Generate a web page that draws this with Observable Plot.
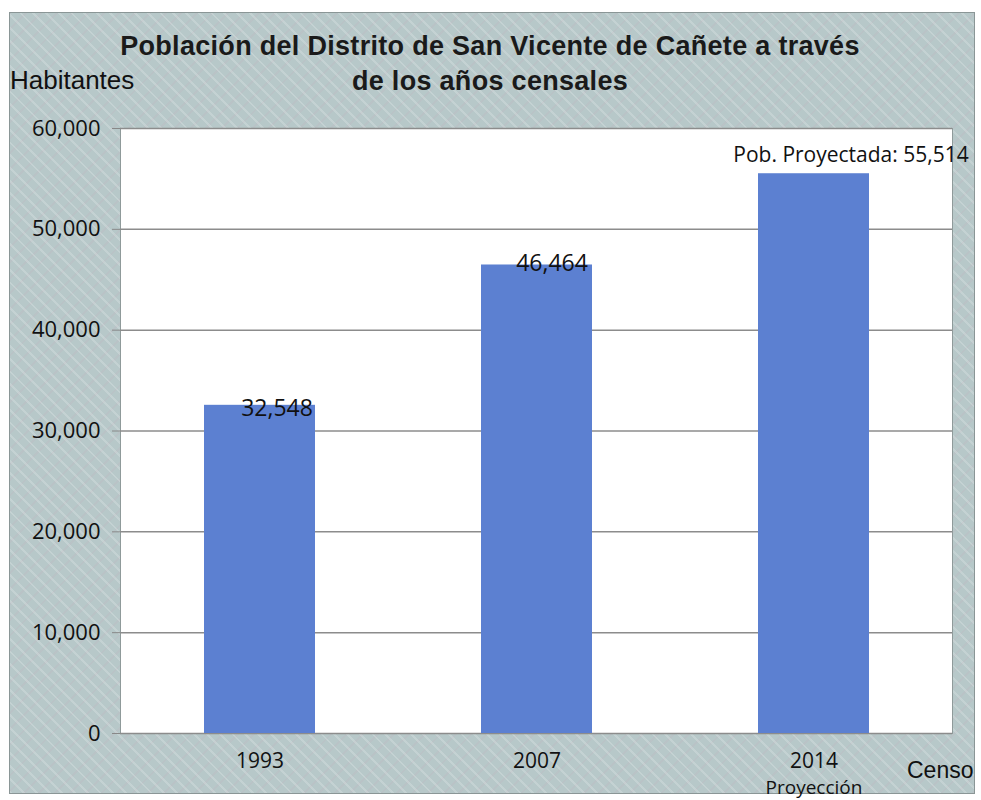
<!DOCTYPE html>
<html>
<head>
<meta charset="utf-8">
<script src="https://cdn.jsdelivr.net/npm/d3@7"></script>
<script src="https://cdn.jsdelivr.net/npm/@observablehq/plot@0.6"></script>
<style>
  html, body { margin: 0; padding: 0; background: #fff; }
  #frame {
    position: absolute; left: 9px; top: 12px; width: 966px; height: 782px;
    border: 1px solid #8a9696; box-sizing: border-box;
    background-color: #b7c8c9;
    background-image:
      repeating-linear-gradient(45deg, rgba(255,255,255,0.18) 0 2px, transparent 2px 9px),
      repeating-linear-gradient(-45deg, rgba(200,160,180,0.12) 0 2px, transparent 2px 11px);
  }
  #chart { position: absolute; left: 0; top: 0; }
  .title {
    position: absolute; left: 0; width: 980px; text-align: center;
    font-family: "Liberation Sans", Arial, sans-serif; font-weight: bold;
    font-size: 27px; color: #1a1a1a; line-height: 35px; letter-spacing: 0.3px;
  }
  .lbl { position: absolute; font-family: "Liberation Sans", Arial, sans-serif; color: #111; }
</style>
</head>
<body>
<div id="frame"></div>
<div id="chart"></div>
<div class="title" style="top:29px;">Población del Distrito de San Vicente de Cañete a través<br>de los años censales</div>
<div class="lbl" style="left:10px; top:65px; font-size:26px;">Habitantes</div>
<div class="lbl" style="left:907px; top:757px; font-size:23px;">Censo</div>
<script>
const years = ["1993", "2007", "2014"];
const population = [32548, 46464, 55514];
const valueLabels = ["32,548", "46,464", "Pob. Proyectada: 55,514"];
const subLabels = ["", "", "Proyección"];
const yTicks = [0, 10000, 20000, 30000, 40000, 50000, 60000];

const data = years.map((y, i) => ({year: y, value: population[i], label: valueLabels[i], sub: subLabels[i]}));

const font = "'Open Sans', 'Noto Sans', sans-serif";

const chart = Plot.plot({
  width: 981,
  height: 800,
  marginLeft: 120,
  marginRight: 29,
  marginTop: 128,
  marginBottom: 67,
  style: {background: "transparent", fontFamily: font, fontSize: "20px", color: "#111"},
  x: {domain: years, paddingInner: 0.6, paddingOuter: 0.3, label: null},
  y: {domain: [0, 60000], label: null},
  marks: [
    Plot.frame({fill: "white", stroke: "#8f9a9a"}),
    Plot.ruleY(yTicks, {stroke: "#8c8c8c", strokeWidth: 1.5}),
    Plot.barY(data, {x: "year", y: "value", fill: "#5c80d1"}),
    Plot.axisY(yTicks, {tickFormat: d3.format(","), tickSize: 8, tickPadding: 12, fontSize: 22, stroke: "#888"}),
    Plot.axisX({tickSize: 0, tickPadding: 20, fontSize: 21}),
    Plot.text(data.filter(d => d.sub), {x: "year", text: "sub", frameAnchor: "bottom", dy: 60, fontSize: 19, fill: "#111"}),
    Plot.text(data.filter(d => d.year === "1993"), {x: "year", y: "value", text: "label", dx: 17, dy: 3, fontSize: 23, fill: "#111"}),
    Plot.text(data.filter(d => d.year === "2007"), {x: "year", y: "value", text: "label", dx: 15, dy: -1, fontSize: 23, fill: "#111"}),
    Plot.text(data.filter(d => d.year === "2014"), {x: "year", y: "value", text: "label", dx: 37, dy: -18, fontSize: 21, fill: "#111"})
  ]
});
document.getElementById("chart").appendChild(chart);
</script>
</body>
</html>
